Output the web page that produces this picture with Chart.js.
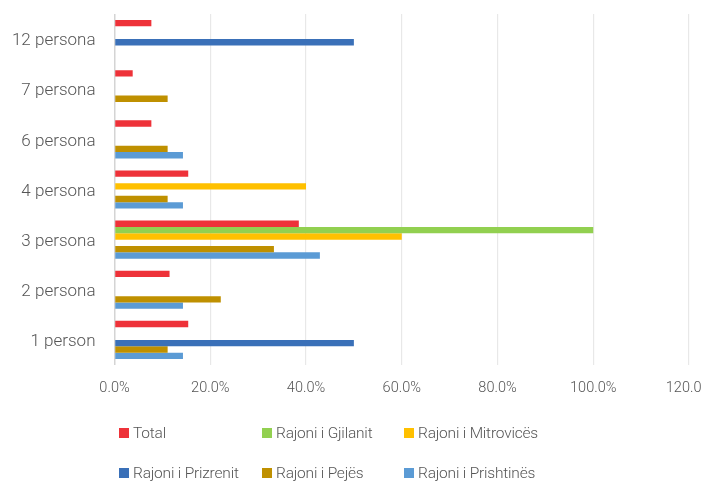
<!DOCTYPE html>
<html><head><meta charset="utf-8">
<script src="https://cdn.jsdelivr.net/npm/chart.js@4/dist/chart.umd.min.js"></script>
<style>
html,body{margin:0;padding:0;background:#fff;width:718px;height:484px;overflow:hidden;}
#clip{position:absolute;left:0;top:0;width:701px;height:410px;overflow:hidden;}
#wrap{position:absolute;left:0;top:0;width:718px;height:410px;}
#legend{position:absolute;left:0;top:0;width:718px;height:484px;pointer-events:none;font-family:"Roboto","DejaVu Sans Condensed",sans-serif;font-weight:300;font-size:15.5px;color:#555555;}
.li{position:absolute;white-space:nowrap;line-height:16px;letter-spacing:-0.2px;}
.sw{display:inline-block;width:10px;height:10px;margin-right:4px;vertical-align:0px;}
</style></head>
<body>
<div id="clip"><div id="wrap"><canvas id="c"></canvas></div></div>
<div id="legend"></div>
<script>
const categories = ["12 persona","7 persona","6 persona","4 persona","3 persona","2 persona","1 person"];
const seriesNames = ["Total","Rajoni i Gjilanit","Rajoni i Mitrovicës","Rajoni i Prizrenit","Rajoni i Pejës","Rajoni i Prishtinës"];
const total      = [7.7, 3.8, 7.7, 15.4, 38.5, 11.5, 15.4];
const gjilanit   = [0, 0, 0, 0, 100, 0, 0];
const mitrovices = [0, 0, 0, 40, 60, 0, 0];
const prizrenit  = [50, 0, 0, 0, 0, 0, 50];
const pejes      = [0, 11.1, 11.1, 11.1, 33.3, 22.2, 11.1];
const prishtines = [0, 0, 14.3, 14.3, 42.9, 14.3, 14.3];
const xTicks = [0, 20, 40, 60, 80, 100, 120];
const colors = ["#EE3239","#92D050","#FFC000","#3A70B8","#BF9000","#5B9BD5"];

const values = [total, gjilanit, mitrovices, prizrenit, pejes, prishtines];
const FONT = '"Roboto","DejaVu Sans Condensed",sans-serif';
const GREY = '#555555';

const chart = new Chart(document.getElementById('c'), {
  type: 'bar',
  data: {
    labels: categories,
    datasets: seriesNames.map((n, i) => ({
      label: n, data: values[i], backgroundColor: colors[i],
      borderWidth: 0, barPercentage: 1.0, categoryPercentage: 0.76
    }))
  },
  options: {
    indexAxis: 'y',
    responsive: true, maintainAspectRatio: false, animation: false,
    layout: { padding: { left: 0, right: 29, top: 14, bottom: 0 } },
    plugins: { legend: { display: false }, tooltip: { enabled: false } },
    scales: {
      x: {
        min: 0, max: 120,
        afterBuildTicks: s => { s.ticks = xTicks.map(v => ({ value: v })); },
        afterFit: s => { s.height = 45; s.paddingLeft = 0; s.paddingRight = 0; },
        border: { display: false },
        grid: {
          drawTicks: false,
          color: c => (c.tick && c.tick.value === 0) ? '#d4d4d4' : '#e8e8e8',
          lineWidth: c => (c.tick && c.tick.value === 0) ? 1.5 : 1.2
        },
        ticks: {
          padding: 15, maxRotation: 0, autoSkip: false,
          color: GREY, font: { family: FONT, size: 14.5, weight: 300 },
          callback: v => Number(v).toFixed(1) + '%'
        }
      },
      y: {
        afterFit: s => { s.width = 114.5; s.paddingTop = 0; s.paddingBottom = 0; },
        border: { display: false },
        grid: { display: false, drawTicks: false },
        ticks: { padding: 19, labelOffset: 2, color: GREY, font: { family: FONT, size: 17, weight: 300 } }
      }
    }
  }
});

// legend grid (built from dataset labels/colors)
const lg = document.getElementById('legend');
const colX = [119, 262, 404];
const rowY = [425, 465];
chart.data.datasets.forEach((d, i) => {
  const el = document.createElement('div');
  el.className = 'li';
  el.style.left = colX[i % 3] + 'px';
  el.style.top = rowY[Math.floor(i / 3)] + 'px';
  el.innerHTML = '<span class="sw" style="background:' + d.backgroundColor + '"></span>';
  el.appendChild(document.createTextNode(d.label));
  lg.appendChild(el);
});
</script>
</body></html>
